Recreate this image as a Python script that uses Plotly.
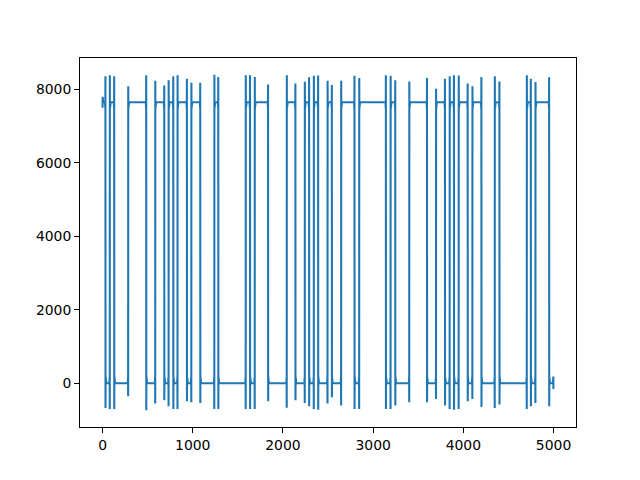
import plotly.graph_objects as go

# ---- data ----
n_samples = 5000
high_level = 7650
low_level = 0

# sample index of each level transition (signal starts high, alternates)
edge_samples = [33, 81, 130, 285, 485, 585, 685, 733, 785, 832,
                936, 985, 1084, 1240, 1284, 1588, 1636, 1688, 1836, 2043,
                2139, 2243, 2291, 2343, 2391, 2495, 2543, 2646, 2794, 2846,
                3142, 3194, 3246, 3401, 3598, 3698, 3797, 3849, 3897, 3949,
                4049, 4101, 4201, 4349, 4401, 4704, 4749, 4800, 4952]

# overshoot peak value at each transition
edge_top = [8360, 8390, 8360, 8090, 8390, 8240, 8110, 8250, 8360, 8390,
            8290, 8180, 8180, 8400, 8340, 8390, 8390, 8340, 8135, 8390,
            8160, 8210, 8330, 8370, 8380, 8240, 8120, 8240, 8370, 8310,
            8390, 8370, 8250, 8220, 8310, 8020, 8290, 8360, 8390, 8380,
            8160, 8090, 8340, 8360, 8220, 8390, 8290, 8200, 8330]

# undershoot value at each transition
edge_bottom = [-673, -700, -700, -357, -736, -556, -465, -628, -700, -700,
               -490, -520, -540, -700, -700, -700, -700, -700, -490, -670,
               -465, -540, -628, -700, -720, -556, -380, -610, -700, -700,
               -700, -700, -610, -520, -520, -430, -610, -700, -720, -700,
               -490, -430, -650, -673, -580, -700, -628, -540, -628]

# ringing next to each transition (offset from the level)
ring_amp = [170, 120, 80]
start_values = [7500, 7800, 7560, 7720]
end_values = [120, -150, 180, -160]

# ---- build the trace ----
y = []
k = 0
for i in range(n_samples):
    while k < len(edge_samples) and edge_samples[k] <= i:
        k += 1
    y.append(high_level if k % 2 == 0 else low_level)

for idx, t in enumerate(edge_samples):
    rising = (idx % 2 == 1)  # starts high, first edge falls
    if rising:
        y[t - 1] = edge_bottom[idx]
        y[t] = edge_top[idx]
        for j, a in enumerate(ring_amp):
            s = 1 if j % 2 == 0 else -1
            y[t - 2 - j] = low_level + s * a
            y[t + 1 + j] = high_level - s * a
    else:
        y[t - 1] = edge_top[idx]
        y[t] = edge_bottom[idx]
        for j, a in enumerate(ring_amp):
            s = 1 if j % 2 == 0 else -1
            y[t - 2 - j] = high_level - s * a
            y[t + 1 + j] = low_level + s * a

for j, v in enumerate(start_values):
    y[j] = v
for j, v in enumerate(end_values):
    y[n_samples - len(end_values) + j] = v

x = list(range(n_samples))

xmin, xmax = 0, n_samples - 1
ymin, ymax = min(y), max(y)
xpad = 0.05 * (xmax - xmin)
ypad = 0.05 * (ymax - ymin)

fig = go.Figure()
fig.add_trace(go.Scatter(x=x, y=y, mode="lines",
                         line=dict(color="#1f77b4", width=2.08),
                         hoverinfo="skip", showlegend=False))

axis_common = dict(showgrid=False, zeroline=False, showline=True, mirror=True,
                   linecolor="black", linewidth=1.1, ticks="outside",
                   ticklen=4.9, tickwidth=1.1, tickcolor="black",
                   tickfont=dict(family="DejaVu Sans", size=13.9, color="black"))

fig.update_layout(
    width=640, height=480,
    margin=dict(l=80, r=64, t=57.6, b=52.8),
    paper_bgcolor="white", plot_bgcolor="white",
    xaxis=dict(range=[xmin - xpad, xmax + xpad], tickmode="array",
               tickvals=[0, 1000, 2000, 3000, 4000, 5000], **axis_common),
    yaxis=dict(range=[ymin - ypad, ymax + ypad], tickmode="array",
               tickvals=[0, 2000, 4000, 6000, 8000], **axis_common),
)

fig.write_html("out.html")
